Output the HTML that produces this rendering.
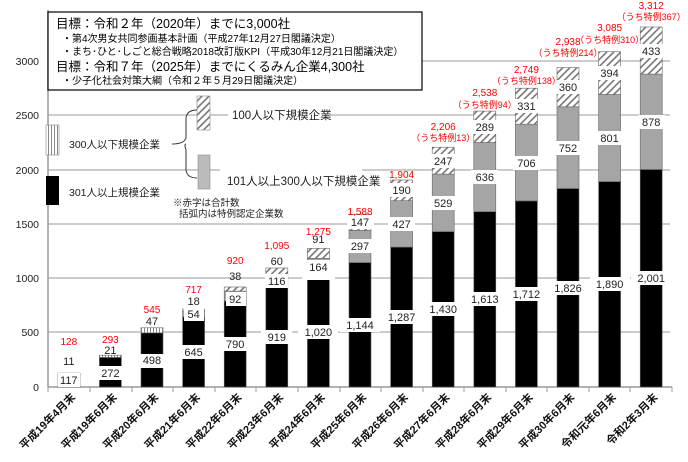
<!DOCTYPE html>
<html><head><meta charset="utf-8"><style>
body{margin:0;background:#fff}
svg{display:block;font-family:"Liberation Sans","Noto Sans CJK JP",sans-serif}
.n{font-size:11px;fill:#222;text-anchor:middle}
.r{font-size:10px;fill:#f00;text-anchor:middle}
.s{font-size:9px;fill:#f00;text-anchor:middle}
.y{font-size:10.5px;fill:#222;text-anchor:end}
.x{font-size:11px;font-weight:bold;fill:#111;text-anchor:end}
</style></head><body>
<svg width="688" height="462" viewBox="0 0 688 462">
<defs>
<pattern id="h" width="5" height="5" patternUnits="userSpaceOnUse" patternTransform="rotate(45)"><rect width="5" height="5" fill="#fff"/><rect width="1.6" height="5" fill="#777"/></pattern>
<pattern id="v" width="3" height="5" patternUnits="userSpaceOnUse"><rect width="3" height="5" fill="#fff"/><rect width="1" height="5" fill="#888"/></pattern>
</defs>
<g stroke="#bbb" stroke-width="1.5">
<line x1="48" y1="332" x2="670" y2="332"/><line x1="48" y1="278" x2="670" y2="278"/><line x1="48" y1="224" x2="670" y2="224"/><line x1="48" y1="170" x2="670" y2="170"/><line x1="48" y1="115" x2="670" y2="115"/><line x1="48" y1="61" x2="670" y2="61"/>
</g>
<line x1="48" y1="387" x2="672" y2="387" stroke="#999" stroke-width="1.5"/>
<line x1="48" y1="387" x2="48" y2="10" stroke="#999" stroke-width="1.5"/>
<g stroke="#999"><line x1="48" y1="387" x2="48" y2="392"/><line x1="90" y1="387" x2="90" y2="392"/><line x1="132" y1="387" x2="132" y2="392"/><line x1="173" y1="387" x2="173" y2="392"/><line x1="215" y1="387" x2="215" y2="392"/><line x1="256" y1="387" x2="256" y2="392"/><line x1="298" y1="387" x2="298" y2="392"/><line x1="340" y1="387" x2="340" y2="392"/><line x1="381" y1="387" x2="381" y2="392"/><line x1="423" y1="387" x2="423" y2="392"/><line x1="464" y1="387" x2="464" y2="392"/><line x1="506" y1="387" x2="506" y2="392"/><line x1="547" y1="387" x2="547" y2="392"/><line x1="589" y1="387" x2="589" y2="392"/><line x1="630" y1="387" x2="630" y2="392"/><line x1="672" y1="387" x2="672" y2="392"/></g>
<text class="y" x="39" y="391">0</text><text class="y" x="39" y="336">500</text><text class="y" x="39" y="282">1000</text><text class="y" x="39" y="228">1500</text><text class="y" x="39" y="174">2000</text><text class="y" x="39" y="119">2500</text><text class="y" x="39" y="65">3000</text>
<g stroke="#666" stroke-width="0.6">
<rect x="58" y="374.3" width="22" height="12.7" fill="#000"/><rect x="58" y="373.1" width="22" height="1.2" fill="url(#v)"/>
<rect x="99.4" y="357.4" width="22" height="29.6" fill="#000"/><rect x="99.4" y="355.2" width="22" height="2.2" fill="url(#v)"/>
<rect x="141" y="332.9" width="22" height="54.1" fill="#000"/><rect x="141" y="327.8" width="22" height="5.1" fill="url(#v)"/>
<rect x="182.6" y="316.9" width="22" height="70.1" fill="#000"/><rect x="182.6" y="311" width="22" height="5.9" fill="#a5a5a5"/><rect x="182.6" y="309.1" width="22" height="1.9" fill="url(#h)"/>
<rect x="224.2" y="301.1" width="22" height="85.9" fill="#000"/><rect x="224.2" y="291.1" width="22" height="10" fill="#a5a5a5"/><rect x="224.2" y="287" width="22" height="4.1" fill="url(#h)"/>
<rect x="265.8" y="287.1" width="22" height="99.9" fill="#000"/><rect x="265.8" y="274.5" width="22" height="12.6" fill="#a5a5a5"/><rect x="265.8" y="268" width="22" height="6.5" fill="url(#h)"/>
<rect x="307.4" y="276.1" width="22" height="110.9" fill="#000"/><rect x="307.4" y="258.3" width="22" height="17.8" fill="#a5a5a5"/><rect x="307.4" y="248.4" width="22" height="9.9" fill="url(#h)"/>
<rect x="349" y="262.6" width="22" height="124.4" fill="#000"/><rect x="349" y="230.4" width="22" height="32.2" fill="#a5a5a5"/><rect x="349" y="214.4" width="22" height="16" fill="url(#h)"/>
<rect x="390.6" y="247.1" width="22" height="139.9" fill="#000"/><rect x="390.6" y="200.7" width="22" height="46.4" fill="#a5a5a5"/><rect x="390.6" y="180" width="22" height="20.7" fill="url(#h)"/>
<rect x="432.2" y="231.6" width="22" height="155.4" fill="#000"/><rect x="432.2" y="174.1" width="22" height="57.5" fill="#a5a5a5"/><rect x="432.2" y="147.2" width="22" height="26.9" fill="url(#h)"/>
<rect x="473.8" y="211.7" width="22" height="175.3" fill="#000"/><rect x="473.8" y="142.5" width="22" height="69.2" fill="#a5a5a5"/><rect x="473.8" y="111.1" width="22" height="31.4" fill="url(#h)"/>
<rect x="515.4" y="200.9" width="22" height="186.1" fill="#000"/><rect x="515.4" y="124.2" width="22" height="76.7" fill="#a5a5a5"/><rect x="515.4" y="88.2" width="22" height="36" fill="url(#h)"/>
<rect x="557" y="188.5" width="22" height="198.5" fill="#000"/><rect x="557" y="106.8" width="22" height="81.7" fill="#a5a5a5"/><rect x="557" y="67.6" width="22" height="39.2" fill="url(#h)"/>
<rect x="598.6" y="181.6" width="22" height="205.4" fill="#000"/><rect x="598.6" y="94.5" width="22" height="87.1" fill="#a5a5a5"/><rect x="598.6" y="51.7" width="22" height="42.8" fill="url(#h)"/>
<rect x="640.2" y="169.5" width="22" height="217.5" fill="#000"/><rect x="640.2" y="74.1" width="22" height="95.4" fill="#a5a5a5"/><rect x="640.2" y="27" width="22" height="47.1" fill="url(#h)"/>
</g>
<g fill="#fff">
<rect x="58" y="373" width="22" height="14"/>
<rect x="95" y="366" width="31" height="14"/><rect x="137" y="354" width="31" height="14"/><rect x="178" y="345" width="31" height="14"/><rect x="220" y="337" width="31" height="14"/><rect x="261" y="330" width="31" height="14"/><rect x="298" y="325" width="40" height="14"/><rect x="340" y="318" width="40" height="14"/><rect x="382" y="310" width="40" height="14"/><rect x="423" y="302" width="40" height="14"/><rect x="465" y="292" width="40" height="14"/><rect x="506" y="287" width="40" height="14"/><rect x="548" y="281" width="40" height="14"/><rect x="590" y="277" width="40" height="14"/><rect x="631" y="271" width="40" height="14"/>
<rect x="184" y="307" width="20" height="14"/><rect x="226" y="292" width="20" height="14"/><rect x="265" y="274" width="23" height="14"/><rect x="305" y="260" width="27" height="14"/><rect x="347" y="239" width="27" height="14"/><rect x="388" y="217" width="27" height="14"/><rect x="430" y="196" width="27" height="14"/><rect x="471" y="170" width="27" height="14"/><rect x="513" y="156" width="27" height="14"/><rect x="554" y="141" width="27" height="14"/><rect x="596" y="131" width="27" height="14"/><rect x="638" y="115" width="27" height="14"/>
<rect x="347" y="215" width="27" height="14"/><rect x="388" y="183" width="27" height="14"/><rect x="430" y="154" width="27" height="14"/><rect x="471" y="120" width="27" height="14"/><rect x="513" y="99" width="27" height="14"/><rect x="554" y="80" width="27" height="14"/><rect x="596" y="66" width="27" height="14"/><rect x="638" y="44" width="27" height="14"/>
<rect x="302" y="274" width="33" height="6"/>
</g>
<g class="n">
<text x="68.8" y="384">117</text><text x="68.8" y="365">11</text><text x="110.4" y="377">272</text><text x="110.4" y="354">21</text><text x="152" y="364">498</text><text x="152" y="325">47</text><text x="193.6" y="356">645</text><text x="193.6" y="318">54</text><text x="193.6" y="305">18</text><text x="235.2" y="348">790</text><text x="235.2" y="303">92</text><text x="235.2" y="280">38</text><text x="276.8" y="341">919</text><text x="276.8" y="285">116</text><text x="276.8" y="265">60</text><text x="318.4" y="336">1,020</text><text x="318.4" y="271">164</text><text x="318.4" y="243">91</text><text x="360" y="329">1,144</text><text x="360" y="250">297</text><text x="360" y="226">147</text><text x="401.6" y="321">1,287</text><text x="401.6" y="228">427</text><text x="401.6" y="194">190</text><text x="443.2" y="313">1,430</text><text x="443.2" y="207">529</text><text x="443.2" y="165">247</text><text x="484.8" y="303">1,613</text><text x="484.8" y="181">636</text><text x="484.8" y="131">289</text><text x="526.4" y="298">1,712</text><text x="526.4" y="167">706</text><text x="526.4" y="110">331</text><text x="568" y="292">1,826</text><text x="568" y="152">752</text><text x="568" y="91">360</text><text x="609.6" y="288">1,890</text><text x="609.6" y="142">801</text><text x="609.6" y="77">394</text><text x="651.2" y="282">2,001</text><text x="651.2" y="126">878</text><text x="651.2" y="55">433</text>
</g>
<g class="r">
<text x="68.8" y="345">128</text><text x="110.4" y="343">293</text><text x="152" y="313">545</text><text x="193.6" y="293">717</text><text x="235.2" y="264">920</text><text x="276.8" y="249">1,095</text><text x="318.4" y="235">1,275</text><text x="360" y="215">1,588</text><text x="401.6" y="178">1,904</text><text x="443.2" y="130">2,206</text><text x="484.8" y="96">2,538</text><text x="526.4" y="73">2,749</text><text x="568" y="45">2,938</text><text x="609.6" y="31">3,085</text><text x="651.2" y="9">3,312</text>
</g>
<g class="s">
<text x="443.2" y="141">（うち特例13）</text><text x="484.8" y="108">（うち特例94）</text><text x="526.4" y="84">（うち特例138）</text><text x="568" y="56">（うち特例214）</text><text x="609.6" y="43">（うち特例310）</text><text x="651.2" y="20">（うち特例367）</text>
</g>
<rect x="48" y="12" width="374" height="78" fill="#fff" stroke="#000" stroke-width="1.2"/>
<text x="56" y="28" font-size="12.5" fill="#000">目標：令和２年（2020年）までに3,000社</text>
<text x="62" y="42" font-size="10" fill="#000">・第4次男女共同参画基本計画（平成27年12月27日閣議決定）</text>
<text x="62" y="55" font-size="10" fill="#000">・まち･ひと･しごと総合戦略2018改訂版KPI（平成30年12月21日閣議決定）</text>
<text x="56" y="71" font-size="12.5" fill="#000">目標：令和７年（2025年）までにくるみん企業4,300社</text>
<text x="62" y="84" font-size="10" fill="#000">・少子化社会対策大綱（令和２年５月29日閣議決定）</text>
<rect x="46" y="125" width="13" height="30" fill="url(#v)" stroke="#888" stroke-width="0.6"/>
<rect x="46" y="176" width="13" height="29" fill="#000"/>
<rect x="197" y="96" width="13" height="34" fill="url(#h)" stroke="#888" stroke-width="0.6"/>
<rect x="198" y="155" width="12" height="34" fill="#bbb" stroke="#888" stroke-width="0.6"/>
<text x="69" y="148" font-size="10.5" fill="#222">300人以下規模企業</text>
<text x="69" y="196" font-size="10.5" fill="#222">301人以上規模企業</text>
<path d="M172 144 Q184 144 186 138 L186 118 Q187 110 197 110 M186 144 Q184 144 186 150 L186 170 Q187 178 197 178" fill="none" stroke="#333" stroke-width="1"/>
<rect x="228" y="106" width="102" height="16" fill="#fff"/>
<text x="232" y="119" font-size="11.5" fill="#222">100人以下規模企業</text>
<rect x="220" y="164" width="142" height="24" fill="#fff"/>
<text x="227" y="185" font-size="11.5" fill="#222">101人以上300人以下規模企業</text>
<text x="173" y="206" font-size="9.5" fill="#222">※赤字は合計数</text>
<text x="179" y="217" font-size="9.5" fill="#222">括弧内は特例認定企業数</text>
<g class="x">
<text transform="translate(76,398) rotate(-45)">平成19年4月末</text>
<text transform="translate(117.6,398) rotate(-45)">平成19年6月末</text>
<text transform="translate(159.2,398) rotate(-45)">平成20年6月末</text>
<text transform="translate(200.8,398) rotate(-45)">平成21年6月末</text>
<text transform="translate(242.4,398) rotate(-45)">平成22年6月末</text>
<text transform="translate(284,398) rotate(-45)">平成23年6月末</text>
<text transform="translate(325.6,398) rotate(-45)">平成24年6月末</text>
<text transform="translate(367.2,398) rotate(-45)">平成25年6月末</text>
<text transform="translate(408.8,398) rotate(-45)">平成26年6月末</text>
<text transform="translate(450.4,398) rotate(-45)">平成27年6月末</text>
<text transform="translate(492,398) rotate(-45)">平成28年6月末</text>
<text transform="translate(533.6,398) rotate(-45)">平成29年6月末</text>
<text transform="translate(575.2,398) rotate(-45)">平成30年6月末</text>
<text transform="translate(616.8,398) rotate(-45)">令和元年6月末</text>
<text transform="translate(658.4,398) rotate(-45)">令和2年3月末</text>
</g>
</svg>
</body></html>
